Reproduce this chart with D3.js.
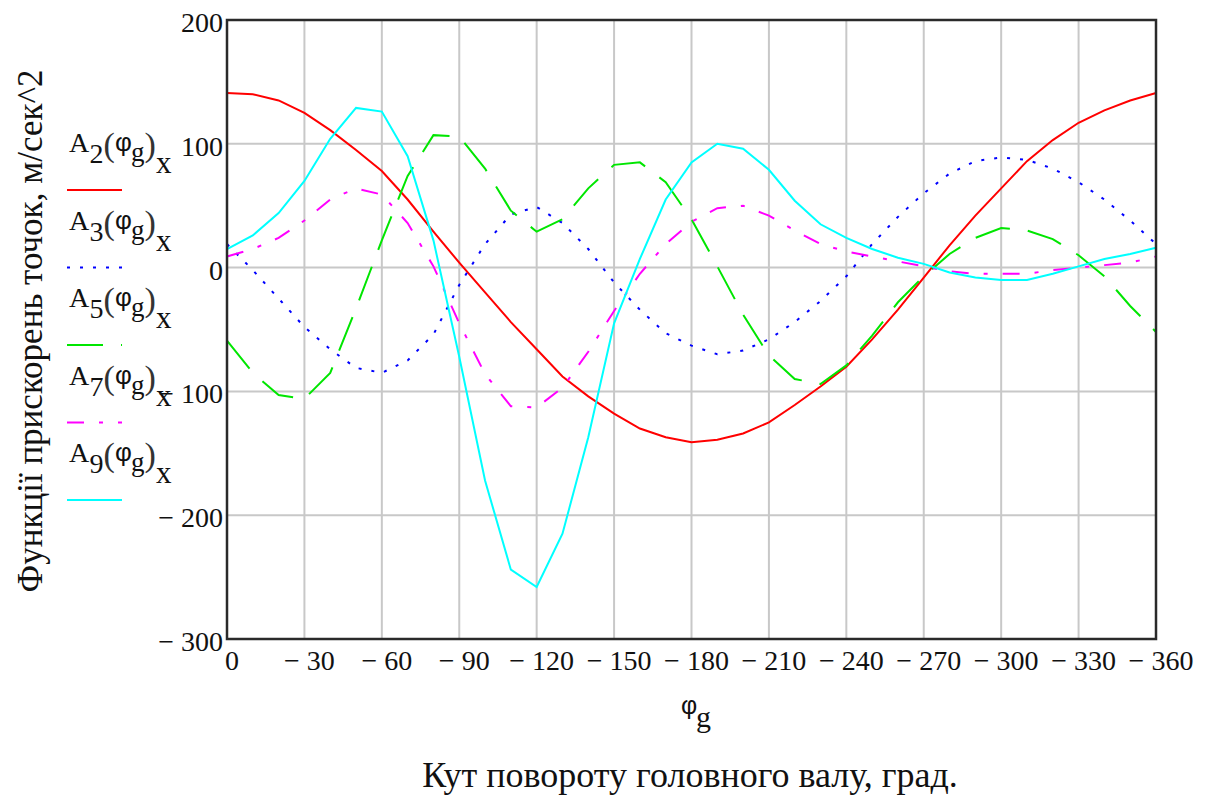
<!DOCTYPE html>
<html>
<head>
<meta charset="utf-8">
<script src="https://cdn.jsdelivr.net/npm/d3@7"></script>
<style>
  html, body { margin: 0; padding: 0; background: #fff; }
  svg { display: block; }
  .serif { font-family: "Liberation Serif", "Times New Roman", serif; }
  .sans { font-family: "Liberation Sans", Arial, sans-serif; }
</style>
</head>
<body>
<svg id="chart" width="1208" height="798"></svg>
<script>
// Crank angle φg, degrees (sampled every 10°)
const angles = [0, -10, -20, -30, -40, -50, -60, -70, -80, -90, -100, -110, -120,
  -130, -140, -150, -160, -170, -180, -190, -200, -210, -220, -230, -240,
  -250, -260, -270, -280, -290, -300, -310, -320, -330, -340, -350, -360];

// Horizontal acceleration components of points 2, 3, 5, 7, 9, m/s^2
const a2 = [141, 140, 135, 125, 111, 95, 78, 55, 29, 4, -20, -44, -66, -88, -104,
  -118, -130, -137, -141, -139, -134, -125, -111, -96, -80, -58, -34, -8, 18,
  42, 64, 86, 103, 117, 127, 135, 141];
const a3 = [19, -2, -25, -48, -66, -81, -85, -75, -54, -14, 19, 43, 49, 36, 15,
  -12, -34, -53, -63, -70, -67, -58, -44, -27, -7, 19, 41, 60, 76, 86, 89, 87,
  80, 69, 55, 38, 19];
const a5 = [-59, -85, -103, -106, -85, -33, 22, 74, 107, 106, 80, 46, 29, 39, 64,
  83, 85, 69, 39, 1, -38, -71, -90, -94, -79, -55, -28, -7, 11, 24, 32, 30, 23,
  10, -7, -31, -52];
const a7 = [9, 15, 24, 38, 55, 64, 59, 36, 1, -45, -86, -112, -113, -97, -68, -35,
  -5, 19, 37, 48, 50, 42, 30, 19, 13, 9, 5, 1, -3, -5, -5, -5, -2, 0, 2, 4, 9];
const a9 = [15, 26, 44, 70, 104, 129, 126, 90, 22, -72, -172, -244, -258, -215,
  -137, -45, 7, 55, 85, 100, 96, 79, 54, 35, 24, 15, 8, 3, -4, -8, -10, -10, -5,
  1, 7, 11, 16];

// Axis ticks and their labels
const xTicks = [0, -30, -60, -90, -120, -150, -180, -210, -240, -270, -300, -330, -360];
const xTickLabels = ["0", "\u2212 30", "\u2212 60", "\u2212 90", "\u2212 120", "\u2212 150",
  "\u2212 180", "\u2212 210", "\u2212 240", "\u2212 270", "\u2212 300", "\u2212 330", "\u2212 360"];
const yTicks = [200, 100, 0, -100, -200, -300];
const yTickLabels = ["200", "100", "0", "\u2212 100", "\u2212 200", "\u2212 300"];

// Trace definitions: index subscript, data, colour, dash pattern
const traceIndex = ["2", "3", "5", "7", "9"];
const traceData = [a2, a3, a5, a7, a9];
const traceColors = ["#ff0000", "#0000ff", "#00e600", "#ff00ff", "#00ffff"];
const traceDash = [null, "3,10", "36,18", "17,15,4,15", null];

const svg = d3.select("#chart");

const plotL = 227, plotR = 1156, plotT = 20, plotB = 639;
const x = d3.scaleLinear().domain([0, -360]).range([plotL, plotR]);
const y = d3.scaleLinear().domain([-300, 200]).range([plotB, plotT]);

// grid
const grid = svg.append("g");
grid.selectAll("line.vx").data(xTicks).join("line")
  .attr("x1", d => x(d)).attr("x2", d => x(d))
  .attr("y1", plotT).attr("y2", plotB)
  .attr("stroke", "#c8c8c8").attr("stroke-width", 2);
grid.selectAll("line.hy").data(yTicks).join("line")
  .attr("x1", plotL).attr("x2", plotR)
  .attr("y1", d => y(d)).attr("y2", d => y(d))
  .attr("stroke", "#c8c8c8").attr("stroke-width", 2);

// traces
const line = d3.line().x((d, i) => x(angles[i])).y(d => y(d));
const traces = svg.append("g");
traceData.forEach((vals, k) => {
  traces.append("path")
    .attr("d", line(vals))
    .attr("fill", "none")
    .attr("stroke", traceColors[k])
    .attr("stroke-width", 2)
    .attr("stroke-dasharray", traceDash[k]);
});

// plot frame
svg.append("rect")
  .attr("x", plotL).attr("y", plotT)
  .attr("width", plotR - plotL).attr("height", plotB - plotT)
  .attr("fill", "none").attr("stroke", "#2a2a2a").attr("stroke-width", 2.5);

// tick labels
svg.append("g").selectAll("text").data(xTicks).join("text")
  .attr("class", "serif")
  .attr("x", d => x(d) + 5).attr("y", 670)
  .attr("text-anchor", "middle")
  .attr("font-size", 28).attr("fill", "#111")
  .text((d, i) => xTickLabels[i]);
svg.append("g").selectAll("text").data(yTicks).join("text")
  .attr("class", "serif")
  .attr("x", 223).attr("y", d => y(d) + 12)
  .attr("text-anchor", "end")
  .attr("font-size", 28).attr("fill", "#111")
  .text((d, i) => yTickLabels[i]);

// x variable label φg
const xv = svg.append("text").attr("class", "serif").attr("fill", "#111");
xv.append("tspan").attr("class", "sans").attr("x", 681).attr("y", 714)
  .attr("font-size", 25).text("\u03c6");
xv.append("tspan").attr("x", 696).attr("y", 727)
  .attr("font-size", 30).text("g");

// axis titles
svg.append("text").attr("class", "serif")
  .attr("x", 690).attr("y", 787)
  .attr("text-anchor", "middle").attr("font-size", 36).attr("fill", "#111")
  .text("Кут повороту головного валу, град.");
svg.append("text").attr("class", "serif")
  .attr("transform", "translate(42,331) rotate(-90)")
  .attr("text-anchor", "middle").attr("font-size", 35).attr("fill", "#111")
  .text("Функції прискорень точок, м/сек^2");

// legend: one label per trace, A_n(φ_g)_x, with its line sample below
const legend = svg.append("g");
traceIndex.forEach((idx, k) => {
  const by = 152 + k * 77.5;
  const t = legend.append("text").attr("class", "serif").attr("fill", "#111");
  t.append("tspan").attr("x", 69).attr("y", by).attr("font-size", 28).text("A");
  t.append("tspan").attr("x", 89.5).attr("y", by + 11).attr("font-size", 28).text(idx);
  t.append("tspan").attr("x", 103.5).attr("y", by + 4).attr("font-size", 34)
    .attr("fill", "#333").text("(");
  t.append("tspan").attr("class", "sans").attr("x", 115).attr("y", by - 1)
    .attr("font-size", 26).text("\u03c6");
  t.append("tspan").attr("x", 131).attr("y", by + 9).attr("font-size", 27).text("g");
  t.append("tspan").attr("x", 144.5).attr("y", by + 4).attr("font-size", 34)
    .attr("fill", "#333").text(")");
  t.append("tspan").attr("x", 156).attr("y", by + 21).attr("font-size", 31).text("x");
  legend.append("line")
    .attr("x1", 67).attr("x2", 122)
    .attr("y1", by + 38).attr("y2", by + 38)
    .attr("stroke", traceColors[k]).attr("stroke-width", 2)
    .attr("stroke-dasharray", traceDash[k]);
});
</script>
</body>
</html>
